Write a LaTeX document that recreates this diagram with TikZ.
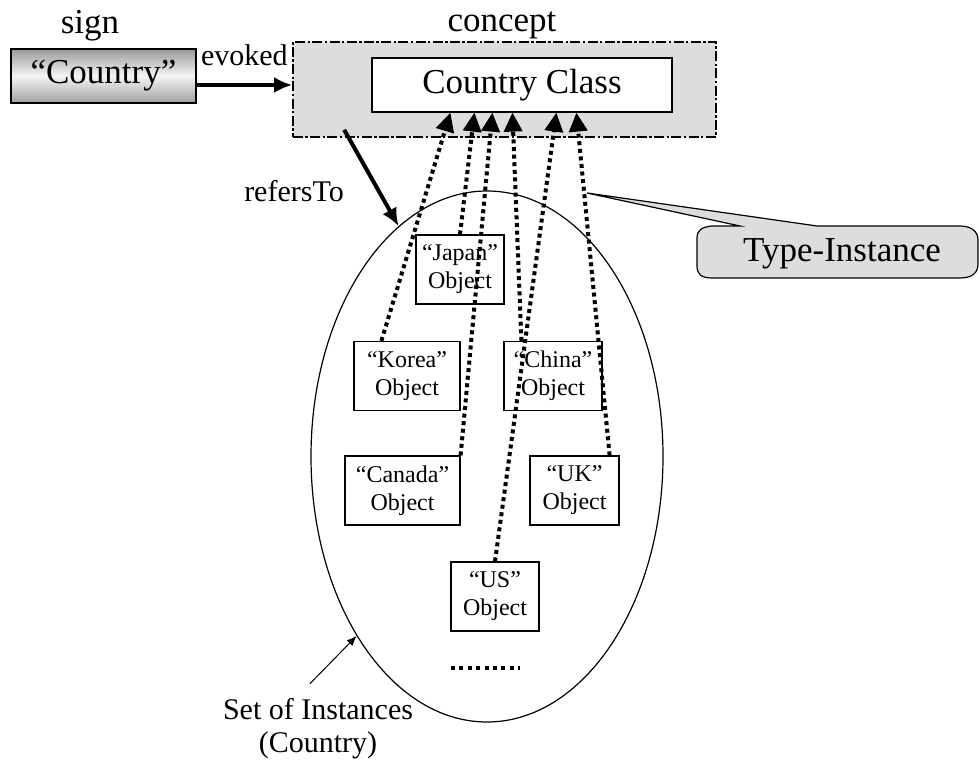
\documentclass[tikz,border=0pt]{standalone}
\usepackage{fontspec}
\setmainfont{Liberation Serif}
\usetikzlibrary{arrows.meta,shapes.geometric}
\definecolor{boxgray}{HTML}{DDDDDD}

\begin{document}
\begin{tikzpicture}[x=0.5pt,y=-0.5pt,>={Latex[length=9pt,width=8pt]},
        big/.style={font=\fontsize{17.5}{20}\selectfont},
        mid/.style={font=\fontsize{15}{16.5}\selectfont},
        objbox/.style={draw,line width=0.6pt,align=center,inner sep=0pt,minimum height=34.5pt,font=\fontsize{12}{14}\selectfont},
        typeline/.style={line width=2pt,dash pattern=on 2pt off 1.8pt,-{Triangle[length=9.5pt,width=9pt]}},
        heavy/.style={line width=2pt,->}]
        \useasboundingbox (0,0) rectangle (979,764);
        \node[draw,line width=0.6pt,minimum width=92.5pt,minimum height=27pt,inner sep=0pt,top color=gray!80,bottom color=gray!75,middle color=gray!8,big] (word) at (103.5,76) {“Country”};
        \node[big] (signlbl) at (90,26) {sign};
        \node[draw,fill=boxgray,line width=0.8pt,dash pattern=on 5pt off 1.2pt on 1.2pt off 1.2pt,minimum width=211.5pt,minimum height=47.5pt] (concept) at (504.5,89.5) {};
        \node[big] (conceptlbl) at (502,25) {concept};
        \node[draw,fill=white,line width=0.6pt,minimum width=150pt,minimum height=27pt,big] (cls) at (522,85) {Country Class};
        \draw[heavy]([yshift=-4.5pt]word.east)--([yshift=-4.5pt]word.east -| concept.west)node[midway,above=5.5pt,mid]{evoked};
        \node[draw,ellipse,line width=0.6pt,minimum width=176pt,minimum height=265.5pt,inner sep=0pt] (set) at (487,456.5) {};
        \draw[heavy]([shift={(26pt,4pt)}]concept.south west)--(set.111);
        \node[mid] (refers) at (294,191) {refersTo};
        \node[objbox,minimum width=44pt] (japan) at (460,269.5) {“Japan”\\Object};
        \node[objbox,minimum width=53pt] (korea) at (407,376) {“Korea”\\Object};
        \node[objbox,minimum width=49pt] (china) at (553,376) {“China”\\Object};
        \node[objbox,minimum width=57.5pt] (canada) at (402.5,490.5) {“Canada”\\Object};
        \node[objbox,minimum width=44.5pt] (uk) at (574.5,490.5) {“UK”\\Object};
        \node[objbox,minimum width=44pt] (us) at (495,596.5) {“US”\\Object};
        \draw[typeline]([xshift=14pt]korea.north west)--([xshift=39.5pt]cls.south west);
        \draw[typeline](japan.north)--([xshift=51.5pt]cls.south west);
        \draw[typeline](canada.north east)--([xshift=60.5pt]cls.south west);
        \draw[typeline]([xshift=9pt]china.north west)--([xshift=70.5pt]cls.south west);
        \draw[typeline](us.north)--([xshift=92.5pt]cls.south west);
        \draw[typeline]([xshift=-5pt]uk.north east)--([xshift=102.5pt]cls.south west);
        \draw[line width=2pt,dash pattern=on 2pt off 2.2pt](451,668)--(520,668);
        \draw[fill=boxgray,line width=0.6pt](740,226)--(587,193)--(817,226)--(960,226)
            .. controls (972,226) and (978,232) .. (978,240)--(978,264)
            .. controls (978,273) and (972,278) .. (960,278)--(712,278)
            .. controls (701,278) and (697,274) .. (697,266)--(697,238)
            .. controls (697,230) and (702,227) .. (712,226)--cycle;
        \node[big] (ti) at (842,254) {Type-Instance};
        \node[mid,align=center] (setlbl) at (318,729) {Set of Instances\\(Country)};
        \draw[line width=0.5pt,-{Latex[length=5pt,width=4pt]}]([shift={(-4pt,4pt)}]setlbl.north)--(set.234);
    \end{tikzpicture}
\end{document}
